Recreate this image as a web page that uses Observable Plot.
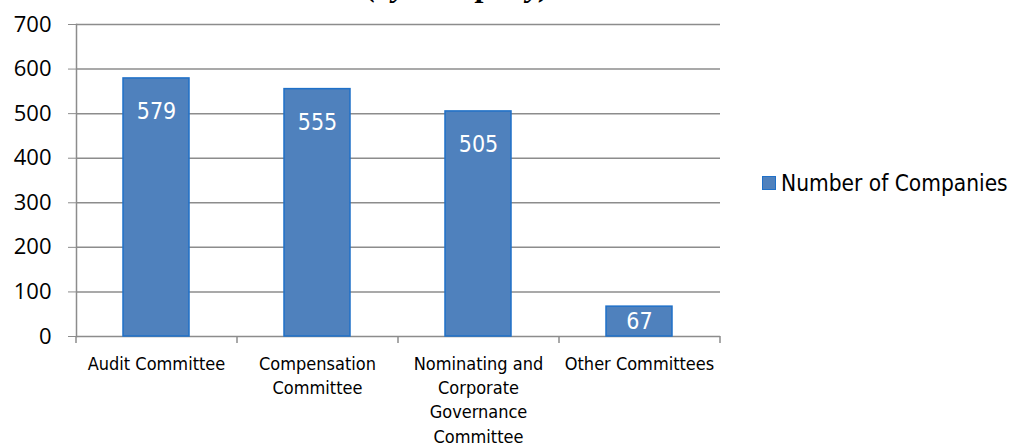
<!DOCTYPE html>
<html>
<head>
<meta charset="utf-8">
<script src="https://cdn.jsdelivr.net/npm/d3@7"></script>
<script src="https://cdn.jsdelivr.net/npm/@observablehq/plot@0.6"></script>
<style>
  html, body { margin: 0; padding: 0; background: #fff; }
  #wrap { position: relative; width: 1014px; height: 444px; overflow: hidden; }
  #title { position: absolute; left: 366px; top: -33px; line-height: 32px; font: italic bold 32px "Liberation Serif", "DejaVu Serif", serif; color: #000; white-space: nowrap; }
  #legend { position: absolute; left: 762px; top: 170px; display: flex; align-items: center; font: 22.5px "DejaVu Sans Condensed", "Liberation Sans", sans-serif; color: #000; }
  #legend .sw { width: 12px; height: 12px; background: #4F81BD; border: 1.5px solid #1F70C8; margin-right: 5px; }
</style>
</head>
<body>
<div id="wrap">
  <div id="title">(by Company)</div>
  <div id="legend"><span class="sw"></span><span id="legtext"></span></div>
</div>
<script>
const categories = ["Audit Committee", "Compensation Committee", "Nominating and Corporate Governance Committee", "Other Committees"];
const tickLabels = ["Audit Committee", "Compensation\nCommittee", "Nominating and\nCorporate\nGovernance\nCommittee", "Other Committees"];
const values = [579, 555, 505, 67];
const seriesName = "Number of Companies";
const yTicks = [0, 100, 200, 300, 400, 500, 600, 700];

const data = categories.map((c, i) => ({category: c, value: values[i]}));
const labelOf = new Map(categories.map((c, i) => [c, tickLabels[i]]));
const narrow = '"DejaVu Sans Condensed", "Liberation Sans", sans-serif';

const chart = Plot.plot({
  width: 1014,
  height: 444,
  marginLeft: 76,
  marginRight: 294,
  marginTop: 24,
  marginBottom: 108,
  style: {background: "transparent", overflow: "visible"},
  x: {domain: categories, paddingInner: 0.59, paddingOuter: 0.295},
  y: {domain: [0, 700]},
  marks: [
    Plot.ruleY(yTicks, {stroke: "#8c8c8c", strokeWidth: 1.5, strokeOpacity: 1}),
    Plot.axisY({ticks: yTicks, tickSize: 8, tickPadding: 17, stroke: "#8c8c8c", label: null,
      fontSize: 22, fontFamily: '"Open Sans", "Liberation Sans", Arial, sans-serif', fill: "#000"}),
    Plot.frame({anchor: "left", stroke: "#8c8c8c", strokeWidth: 1.5}),
    Plot.barY(data, {x: "category", y: "value", fill: "#4F81BD", stroke: "#1F70C8", strokeWidth: 1.5}),
    Plot.text(data, {x: "category", y: d => Math.max(d.value - 75, d.value / 2), text: d => String(d.value), fill: "#fff",
      fontSize: 23, fontFamily: narrow}),
    Plot.ruleX(categories, {x: d => d, y1: 0, dx: -80.5, stroke: "#8c8c8c", strokeWidth: 1.5, insetBottom: -7}),
    Plot.ruleX(categories.slice(-1), {x: d => d, y1: 0, dx: 80.5, stroke: "#8c8c8c", strokeWidth: 1.5, insetBottom: -7}),
    Plot.axisX({tickSize: 0, tickPadding: 16, label: null, tickFormat: d => labelOf.get(d),
      fontSize: 18, fontFamily: narrow, fill: "#000", lineHeight: 1.35})
  ]
});
document.getElementById("wrap").appendChild(chart);
document.getElementById("legtext").textContent = seriesName;
chart.style.position = "absolute";
chart.style.left = "0px";
chart.style.top = "0px";
</script>
</body>
</html>
